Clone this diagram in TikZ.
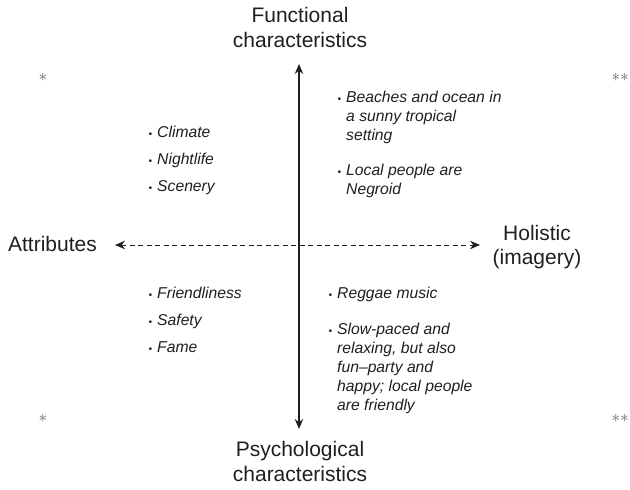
\documentclass[tikz,border=0pt]{standalone}
\usepackage{fontspec}
\setmainfont{Liberation Sans}
\usepackage{tikz}
\usetikzlibrary{arrows.meta}
\definecolor{ink}{gray}{.12}
\newcommand{\bigfont}{\fontsize{21}{24.5}\selectfont}
\newcommand{\itemfont}{\fontsize{15.7}{18.8}\selectfont\itshape}
\newcommand{\bul}{\llap{{\fontsize{10}{10}\selectfont\textbullet}\hspace{5pt}}}

\begin{document}
\begin{tikzpicture}[x=1pt, y=-1pt, >={Stealth[length=10pt,width=8.5pt]},
  title/.style={font=\bigfont, text=ink, align=center, anchor=base, inner sep=0pt},
  item/.style={font=\itemfont, text=ink, align=left, anchor=base west, inner sep=0pt},
  star/.style={font=\fontsize{17}{17}\selectfont, text=ink!70, inner sep=0pt}]
  \useasboundingbox (0,0) rectangle (630,490);

  % Axes ends
  \coordinate (top) at (299,64);
  \coordinate (bottom) at (299,429);
  \coordinate (left) at (115,245);
  \coordinate (right) at (480,245);

  % Draw axes
  \draw[ink, line width=1.1pt, <->] (bottom) -- (top);
  \draw[ink, line width=.9pt, dash pattern=on 5pt off 3.5pt, <->] (left) -- (right);

  % Axis labels (base = last line)
  \node[title] (func) at (300,47) {Functional\\characteristics};
  \node[title] (psych) at (300,481) {Psychological\\characteristics};
  \node[title] (attr) at (52.5,251) {Attributes};
  \node[title] (holi) at (537,264.5) {Holistic\\(imagery)};

  % Corner marks
  \node[star] (starTL) at (43,77) {$\ast$};
  \node[star, anchor=east] (starTR) at (629,77) {${\ast}{\ast}$};
  \node[star] (starBL) at (43,418) {$\ast$};
  \node[star, anchor=east] (starBR) at (629,418) {${\ast}{\ast}$};

  % Attributes, functional
  \node[item] (climate) at (157,137) {\bul Climate};
  \node[item] (nightlife) at (157,164) {\bul Nightlife};
  \node[item] (scenery) at (157,191) {\bul Scenery};

  % Attributes, psychological
  \node[item] (friendly) at (157,298) {\bul Friendliness};
  \node[item] (safety) at (157,325) {\bul Safety};
  \node[item] (fame) at (157,352) {\bul Fame};

  % Holistic, functional
  \node[item] (beach) at (346,140) {\bul Beaches and ocean in\\a sunny tropical\\setting};
  \node[item] (locals) at (346,194) {\bul Local people are\\Negroid};

  % Holistic, psychological
  \node[item] (reggae) at (337,298) {\bul Reggae music};
  \node[item] (pace) at (337,410) {\bul Slow-paced and\\relaxing, but also\\fun--party and\\happy; local people\\are friendly};
\end{tikzpicture}
\end{document}
